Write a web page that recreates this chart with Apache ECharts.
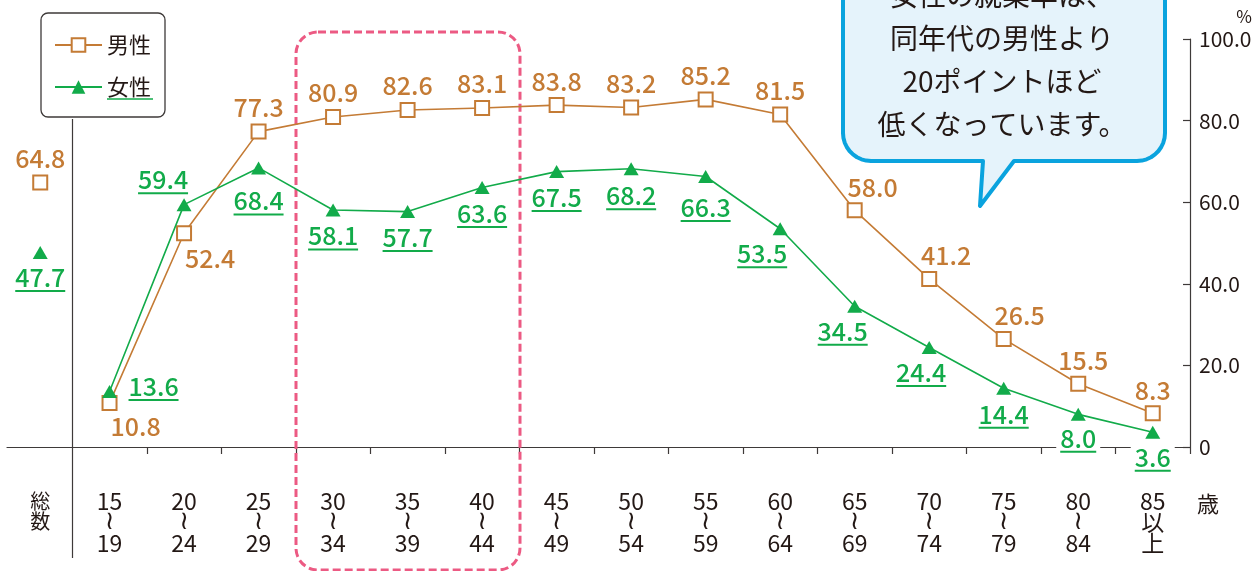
<!DOCTYPE html>
<html>
<head>
<meta charset="utf-8">
<script src="https://cdn.jsdelivr.net/npm/echarts@6/dist/echarts.min.js"></script>
<style>
html, body { margin: 0; padding: 0; background: #fff; }
#chart { width: 1255px; height: 571px; }
</style>
</head>
<body>
<div id="chart"></div>
<script>
// 年齢階級（先頭は総数）
const categories = ['総数', '15〜19', '20〜24', '25〜29', '30〜34', '35〜39', '40〜44', '45〜49',
    '50〜54', '55〜59', '60〜64', '65〜69', '70〜74', '75〜79', '80〜84', '85以上']
const maleRate = [64.8, 10.8, 52.4, 77.3, 80.9, 82.6, 83.1, 83.8, 83.2, 85.2, 81.5, 58.0, 41.2, 26.5, 15.5, 8.3]
const femaleRate = [47.7, 13.6, 59.4, 68.4, 58.1, 57.7, 63.6, 67.5, 68.2, 66.3, 53.5, 34.5, 24.4, 14.4, 8.0, 3.6]
const yTicks = [0, 20, 40, 60, 80, 100]

const BROWN = '#c47b35'
const GREEN = '#12ab4a'
const INK = '#231815'
const AXIS = '#3e3a39'
const FONT = '"Noto Sans CJK JP", "Noto Sans", sans-serif'

// x位置：総数だけ少し左寄せ
const xPos = categories.map((c, i) => i === 0 ? -0.93 : i - 1)

// ラベルの位置（点の中心から文字中心まで）
const maleOffset = [[0, -24], [26, 24], [26, 25], [0, -24], [0, -24], [0, -24], [0, -24], [0, -24],
    [0, -24], [0, -24], [0, -24], [18, -23], [17, -23], [16, -23], [5, -23], [0, -23]]
const femaleOffset = [[0, 25], [44, -5], [-21, -25], [0, 33], [0, 26], [0, 26], [0, 26], [0, 26],
    [0, 27], [0, 31], [-18, 25], [-12, 25], [-8, 25], [0, 26], [0, 24], [0, 25]]

function catLabel(c) {
    if (c === '総数') return '{k|総}\n{k|数}'
    if (c === '85以上') return '{n|85}\n{n|以}\n{n|上}'
    const p = c.split('〜')
    return '{n|' + p[0] + '}\n{w|≀}\n{n|' + p[1] + '}'
}

function pointData(vals, offs, from, to, withUnderline) {
    const out = []
    for (let i = from; i < to; i++) {
        const item = { value: [xPos[i], vals[i]], label: { offset: offs[i].slice() } }
        if (withUnderline) {
            item.label.offset[1] += 1
            // x軸に重なるラベルは白地で抜く
            if (vals[i] < 10) item.label.backgroundColor = '#fff'
        }
        out.push(item)
    }
    return out
}

// 吹き出しの輪郭（下側の角だけ丸める）
function bubblePoints() {
    const pts = [[843, -40], [1165, -40], [1165, 133]]
    const r = 28
    for (let a = 0; a <= 90; a += 10) {
        const t = a * Math.PI / 180
        pts.push([1137 + r * Math.cos(t), 133 + r * Math.sin(t)])
    }
    pts.push([1014, 161], [980, 206], [983, 161])
    for (let a = 90; a <= 180; a += 10) {
        const t = a * Math.PI / 180
        pts.push([871 + r * Math.cos(t), 133 + r * Math.sin(t)])
    }
    return pts
}

const maleLabel = {
    show: true,
    position: 'inside',
    color: BROWN,
    fontSize: 25,
    fontWeight: 500,
    fontFamily: FONT,
    formatter: p => p.value[1].toFixed(1)
}
const femaleLabel = {
    show: true,
    position: 'inside',
    padding: [0, 4, 0, 4],
    formatter: p => {
        const s = p.value[1].toFixed(1)
        return '{t|' + s + '}\n{' + (s.length > 3 ? 'u4' : 'u3') + '|}'
    },
    rich: {
        t: { color: GREEN, fontSize: 25, fontWeight: 500, fontFamily: FONT, lineHeight: 25 },
        u4: { width: 50, height: 2, backgroundColor: GREEN },
        u3: { width: 36, height: 2, backgroundColor: GREEN }
    }
}
const maleStyle = {
    symbol: 'rect', symbolSize: 14,
    itemStyle: { color: '#fff', borderColor: BROWN, borderWidth: 2 },
    lineStyle: { color: BROWN, width: 1.6 }
}
const femaleStyle = {
    symbol: 'triangle', symbolSize: [15, 13],
    itemStyle: { color: GREEN },
    lineStyle: { color: GREEN, width: 1.6 }
}

var myChart = echarts.init(document.getElementById('chart'))
var option = {
    animation: false,
    textStyle: { fontFamily: FONT },
    grid: { left: 7, right: 65, top: 39, bottom: 124 },
    legend: {
        data: ['男性', '女性'],
        orient: 'vertical',
        left: 41,
        top: 13,
        padding: [21, 14, 19, 13],
        itemGap: 20,
        itemWidth: 47,
        itemHeight: 17,
        borderColor: AXIS,
        borderWidth: 1.3,
        borderRadius: 7,
        textStyle: { fontSize: 22, color: INK, fontFamily: FONT }
    },
    xAxis: {
        type: 'value',
        min: -1.376,
        max: 14.5,
        axisLine: { show: true, onZero: false, lineStyle: { color: AXIS, width: 1.2 } },
        axisTick: {
            show: true, length: 7, lineStyle: { color: AXIS, width: 1.2 },
            customValues: [0.5, 1.5, 2.5, 3.5, 4.5, 5.5, 6.5, 7.5, 8.5, 9.5, 10.5, 11.5, 12.5, 13.5, 14.5]
        },
        axisLabel: {
            customValues: xPos,
            margin: 44,
            verticalAlign: 'top',
            formatter: v => {
                let best = 0
                xPos.forEach((p, i) => { if (Math.abs(p - v) < Math.abs(xPos[best] - v)) best = i })
                return catLabel(categories[best])
            },
            rich: {
                n: { fontSize: 23, lineHeight: 21, color: INK, fontFamily: FONT },
                w: { fontSize: 26, lineHeight: 21, color: INK, fontFamily: 'DejaVu Sans' },
                k: { fontSize: 20, lineHeight: 20, color: INK, fontFamily: FONT }
            }
        },
        splitLine: { show: false }
    },
    yAxis: {
        type: 'value',
        position: 'right',
        min: yTicks[0],
        max: yTicks[yTicks.length - 1],
        interval: 20,
        axisLine: { show: true, onZero: false, lineStyle: { color: AXIS, width: 1.2 } },
        axisTick: { show: true, inside: true, length: 7, lineStyle: { color: AXIS, width: 1.2 } },
        axisLabel: {
            margin: 9,
            color: INK,
            fontSize: 21,
            fontFamily: FONT,
            formatter: v => v === 0 ? '0' : v.toFixed(1)
        },
        splitLine: { show: false }
    },
    series: [
        Object.assign({
            name: '男性', type: 'line', z: 3,
            label: maleLabel,
            data: pointData(maleRate, maleOffset, 1, maleRate.length)
        }, maleStyle),
        Object.assign({
            name: '男性', type: 'line', z: 3,
            label: maleLabel,
            data: pointData(maleRate, maleOffset, 0, 1)
        }, maleStyle),
        Object.assign({
            name: '女性', type: 'line', z: 4,
            label: femaleLabel,
            data: pointData(femaleRate, femaleOffset, 1, femaleRate.length, true)
        }, femaleStyle),
        Object.assign({
            name: '女性', type: 'line', z: 4,
            label: femaleLabel,
            data: pointData(femaleRate, femaleOffset, 0, 1, true)
        }, femaleStyle)
    ],
    graphic: [
        // 総数と年齢階級の区切り線
        { type: 'line', z: 1, shape: { x1: 72.5, y1: 119, x2: 72.5, y2: 558 }, style: { stroke: AXIS, lineWidth: 1.2 } },
        // 30〜44歳の点線枠
        { type: 'rect', z: 1, shape: { x: 296, y: 32, width: 224, height: 538, r: 22 },
          style: { fill: 'none', stroke: '#ec5a83', lineWidth: 3, lineDash: [8, 4] } },
        // 凡例「女性」の下線
        { type: 'line', z: 10, shape: { x1: 107, y1: 99, x2: 153, y2: 99 }, style: { stroke: GREEN, lineWidth: 1.6 } },
        // 吹き出し
        { type: 'polygon', z: 5,
          shape: { points: bubblePoints() },
          style: { fill: '#e5f3fb', stroke: '#0aa3de', lineWidth: 4, lineJoin: 'round' } },
        { type: 'text', z: 6, x: 1002, y: -26,
          style: { text: '女性の就業率は、\n同年代の男性より\n20ポイントほど\n低くなっています。',
                   font: '28px ' + FONT, lineHeight: 43, fill: INK, align: 'center', verticalAlign: 'top' } },
        { type: 'text', x: 1244, y: 17,
          style: { text: '%', font: '17px ' + FONT, fill: INK, align: 'center', verticalAlign: 'middle' } },
        { type: 'text', x: 1208, y: 504,
          style: { text: '歳', font: '22px ' + FONT, fill: INK, align: 'center', verticalAlign: 'middle' } }
    ]
}
myChart.setOption(option)
window.addEventListener('resize', function () {
    myChart.resize()
})
</script>
</body>
</html>
